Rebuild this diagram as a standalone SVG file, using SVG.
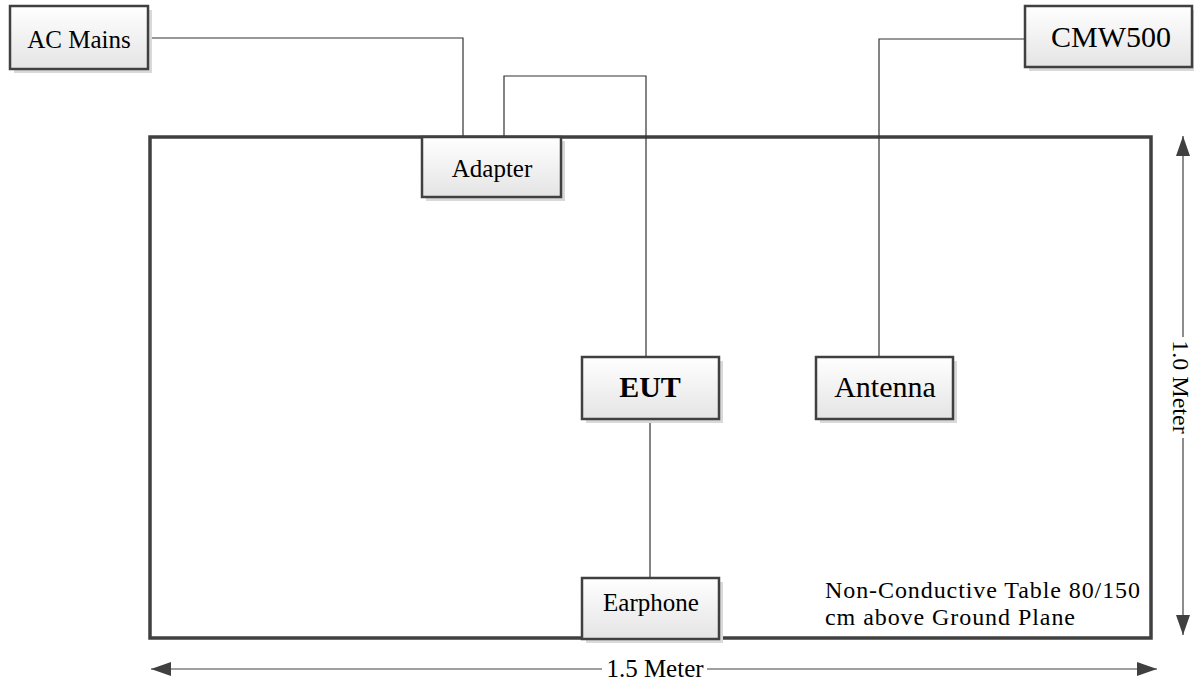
<svg xmlns="http://www.w3.org/2000/svg" width="1194" height="683" viewBox="0 0 1194 683">
<defs>
<linearGradient id="boxfill" x1="0" y1="0" x2="0" y2="1">
<stop offset="0" stop-color="#ffffff"/>
<stop offset="1" stop-color="#e4e4e4"/>
</linearGradient>
<marker id="arr" viewBox="0 0 20 14" refX="20" refY="7" markerWidth="20" markerHeight="14" markerUnits="userSpaceOnUse" orient="auto-start-reverse">
<path d="M0,0 L20,7 L0,14 Z" fill="#404040"/>
</marker>
</defs>
<style>
.shadow{fill:#d9d9d9;}
.box{fill:url(#boxfill);stroke:#404040;stroke-width:2.5;}
.t{font-family:"Liberation Serif","Times New Roman",serif;fill:#000;text-anchor:middle;}
.note{font-family:"Liberation Serif","Times New Roman",serif;fill:#000;font-size:24px;}
.wire{fill:none;stroke:#333333;stroke-width:1.2;}
.dim{fill:none;stroke:#404040;stroke-width:1.2;}
.table{fill:none;stroke:#404040;stroke-width:3.5;}
</style>
<rect width="1194" height="683" fill="#ffffff"/>

<g id="table">
<rect class="table" x="150" y="137" width="1001" height="501"/>
</g>

<g id="connectors">
<polyline class="wire" points="148,38 463,38 463,137"/>
<polyline class="wire" points="504,137 504,76 646,76 646,357"/>
<polyline class="wire" points="1025,39 879,39 879,357"/>
<line class="wire" x1="650" y1="419" x2="650" y2="578"/>
</g>

<g id="ac-mains">
<rect class="shadow" x="14" y="10" width="138" height="63"/>
<rect class="box" x="10" y="6" width="138" height="63"/>
<text class="t" x="79" y="48" font-size="25">AC Mains</text>
</g>

<g id="cmw500">
<rect class="shadow" x="1029" y="10" width="168" height="61"/>
<rect class="box" x="1025" y="6" width="167" height="61"/>
<text class="t" x="1111" y="47" font-size="30">CMW500</text>
</g>

<g id="adapter">
<rect class="shadow" x="426" y="141" width="139" height="60"/>
<rect class="box" x="422" y="137" width="139" height="60"/>
<text class="t" x="492" y="177" font-size="25">Adapter</text>
</g>

<g id="eut">
<rect class="shadow" x="586" y="361" width="137" height="62"/>
<rect class="box" x="582" y="357" width="137" height="62"/>
<text class="t" x="650" y="397" font-size="30" font-weight="bold">EUT</text>
</g>

<g id="antenna">
<rect class="shadow" x="820" y="361" width="137" height="62"/>
<rect class="box" x="816" y="357" width="137" height="62"/>
<text class="t" x="885" y="397" font-size="30">Antenna</text>
</g>

<g id="earphone">
<rect class="shadow" x="586" y="582" width="137" height="61"/>
<rect class="box" x="582" y="578" width="137" height="61"/>
<text class="t" x="651" y="611" font-size="25">Earphone</text>
</g>

<g id="table-label">
<text class="note" x="825" y="598" textLength="315" lengthAdjust="spacing">Non-Conductive Table 80/150</text>
<text class="note" x="825" y="625" textLength="250" lengthAdjust="spacing">cm above Ground Plane</text>
</g>

<g id="dimensions">
<line class="dim" x1="151" y1="669" x2="602" y2="669" marker-start="url(#arr)"/>
<line class="dim" x1="707" y1="669" x2="1157" y2="669" marker-end="url(#arr)"/>
<text class="t" x="655" y="677" font-size="25">1.5 Meter</text>
<line class="dim" x1="1183" y1="136" x2="1183" y2="337" marker-start="url(#arr)"/>
<line class="dim" x1="1183" y1="438" x2="1183" y2="635" marker-end="url(#arr)"/>
<text class="t" x="0" y="0" font-size="24" transform="translate(1182,387) rotate(90)" dy="9">1.0 Meter</text>
</g>
</svg>
